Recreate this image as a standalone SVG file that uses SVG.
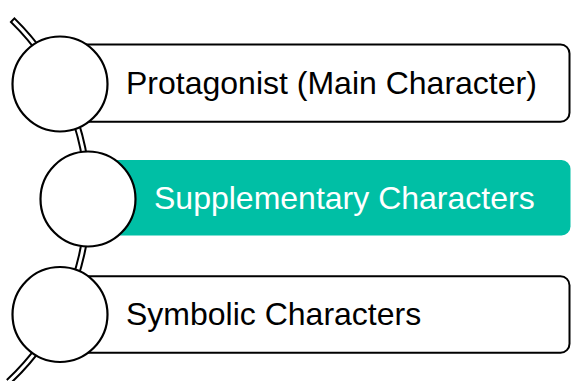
<svg xmlns="http://www.w3.org/2000/svg" width="571" height="381" viewBox="0 0 571 381">
  <style>
    .box { fill: #ffffff; stroke: #000000; stroke-width: 2; }
    .box-accent { fill: #00bfa5; stroke: none; }
    .dot { fill: #ffffff; stroke: #000000; stroke-width: 2.2; }
    .label { font-family: "Liberation Sans", Arial, sans-serif; font-size: 32px; fill: #000000; }
    .label-accent { fill: #ffffff; }
    .rail-outer { fill: none; stroke: #000000; stroke-width: 7; stroke-linecap: butt; }
    .rail-inner { fill: none; stroke: #ffffff; stroke-width: 3; stroke-linecap: butt; }
  </style>

  <rect width="571" height="381" fill="#ffffff"/>

  <!-- curved rail behind the circles: a double line drawn as black stroke with a white core -->
  <g id="connectors">
    <path class="rail-outer" d="M 11.98 19.47 A 250 250 0 0 1 8.5 381.8"/>
    <path class="rail-inner" d="M 13.4 20.9 A 250 250 0 0 1 8.5 381.8"/>
  </g>

  <g id="item-protagonist">
    <rect class="box" x="60" y="44.5" width="509.5" height="77.3" rx="9"/>
    <circle class="dot" cx="60" cy="84" r="47.5"/>
    <text class="label" x="126" y="93.5">Protagonist (Main Character)</text>
  </g>

  <g id="item-supplementary">
    <rect class="box-accent" x="88" y="160" width="482.5" height="75.5" rx="9"/>
    <circle class="dot" cx="88" cy="199" r="47.5"/>
    <text class="label label-accent" x="154" y="209">Supplementary Characters</text>
  </g>

  <g id="item-symbolic">
    <rect class="box" x="60" y="276.2" width="509.5" height="76.6" rx="9"/>
    <circle class="dot" cx="60" cy="314.5" r="47.5"/>
    <text class="label" x="126" y="324.5">Symbolic Characters</text>
  </g>
</svg>
